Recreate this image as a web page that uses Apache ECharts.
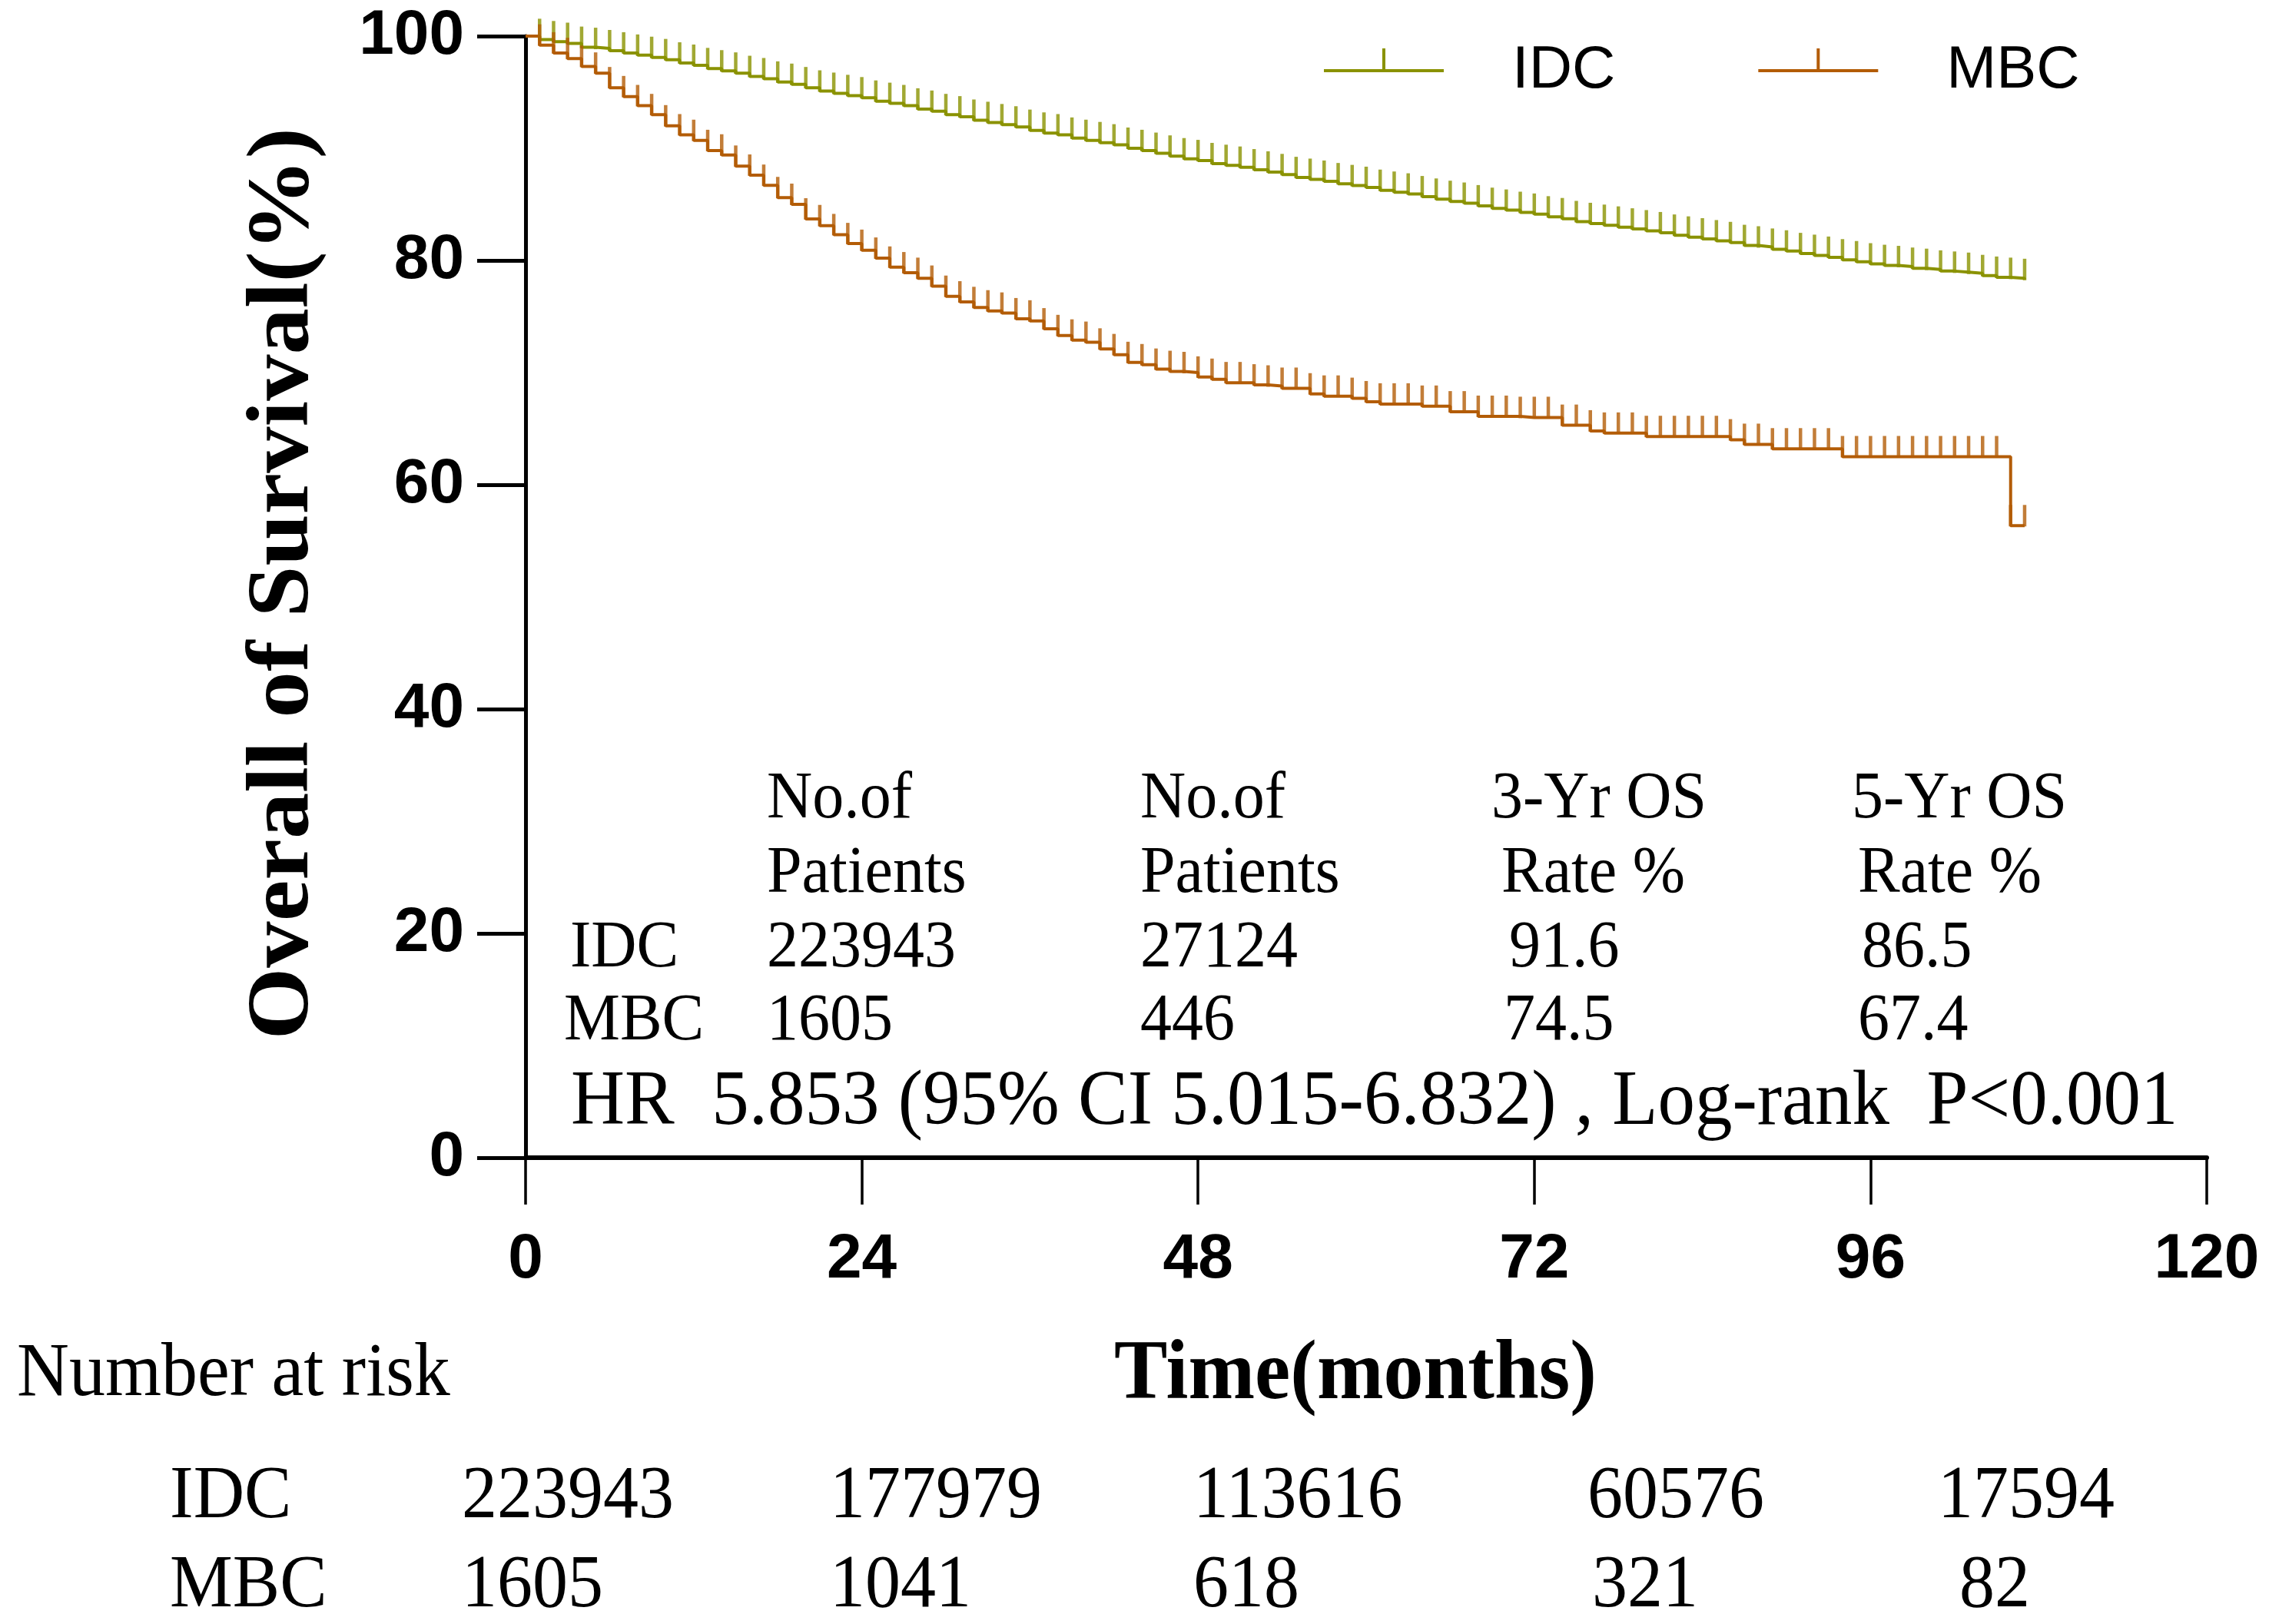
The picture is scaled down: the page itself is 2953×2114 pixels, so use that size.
<!DOCTYPE html>
<html>
<head>
<meta charset="utf-8">
<script src="https://cdn.jsdelivr.net/npm/echarts@6/dist/echarts.min.js"></script>
<style>
  html, body { margin: 0; padding: 0; background: #fff; }
  #main { width: 2953px; height: 2114px; }
</style>
</head>
<body>
<div id="main"></div>
<script>
// months of follow-up where the curves are read
const months = [
  0, 1, 2, 3, 4, 5, 6, 7, 8, 9, 10, 11, 12, 13, 14, 15, 16, 17, 18, 19,
  20, 21, 22, 23, 24, 25, 26, 27, 28, 29, 30, 31, 32, 33, 34, 35, 36, 37, 38, 39,
  40, 41, 42, 43, 44, 45, 46, 47, 48, 49, 50, 51, 52, 53, 54, 55, 56, 57, 58, 59,
  60, 61, 62, 63, 64, 65, 66, 67, 68, 69, 70, 71, 72, 73, 74, 75, 76, 77, 78, 79,
  80, 81, 82, 83, 84, 85, 86, 87, 88, 89, 90, 91, 92, 93, 94, 95, 96, 97, 98, 99,
  100, 101, 102, 103, 104, 105, 106, 107
]

// overall survival (%)
const idcSurvival = [
  100, 99.7, 99.5, 99.35, 99.0, 98.9, 98.7, 98.5, 98.3, 98.1,
  97.9, 97.6, 97.4, 97.1, 96.9, 96.7, 96.4, 96.2, 95.9, 95.7,
  95.4, 95.1, 94.9, 94.7, 94.5, 94.2, 94.0, 93.8, 93.5, 93.3,
  93.0, 92.8, 92.5, 92.3, 92.1, 91.9, 91.6, 91.35, 91.2, 90.9,
  90.7, 90.5, 90.3, 90.0, 89.8, 89.55, 89.3, 89.06, 88.9, 88.63,
  88.47, 88.31, 88.08, 87.88, 87.65, 87.39, 87.23, 87.06, 86.84, 86.67,
  86.51, 86.25, 86.08, 85.92, 85.68, 85.46, 85.26, 85.1, 84.87, 84.64,
  84.48, 84.28, 84.12, 83.88, 83.72, 83.46, 83.29, 83.13, 82.97, 82.8,
  82.64, 82.47, 82.25, 82.08, 81.92, 81.75, 81.59, 81.33, 81.2, 81.0,
  80.84, 80.61, 80.45, 80.28, 80.05, 79.88, 79.69, 79.55, 79.45, 79.3,
  79.2, 79.05, 78.95, 78.85, 78.65, 78.5, 78.4, 78.3
]
const mbcSurvival = [
  100, 99.2, 98.5, 98.0, 97.3, 96.7, 95.4, 94.6, 93.8, 93.0,
  92.0, 91.2, 90.7, 89.8, 89.4, 88.4, 87.6, 86.7, 85.6, 85.0,
  83.7, 83.1, 82.3, 81.5, 80.9, 80.2, 79.4, 78.9, 78.4, 77.7,
  76.8, 76.3, 75.8, 75.5, 75.3, 74.8, 74.6, 73.9, 73.3, 72.9,
  72.7, 72.1, 71.6, 70.9, 70.7, 70.3, 70.1, 70.0, 69.6, 69.4,
  69.1, 69.1, 68.9, 68.8, 68.6, 68.6, 68.1, 67.9, 67.9, 67.7,
  67.4, 67.2, 67.2, 67.2, 67.0, 67.0, 66.5, 66.5, 66.1, 66.1,
  66.1, 66.0, 66.0, 66.0, 65.3, 65.3, 64.8, 64.6, 64.6, 64.6,
  64.3, 64.3, 64.3, 64.3, 64.3, 64.3, 64.0, 63.6, 63.6, 63.2,
  63.2, 63.2, 63.2, 63.2, 62.5, 62.5, 62.5, 62.5, 62.5, 62.5,
  62.5, 62.5, 62.5, 62.5, 62.5, 62.5, 56.35, 56.35
]

// months carrying a censor mark
const idcCensorMonths = [
  1, 2, 3, 4, 5, 6, 7, 8, 9, 10, 11, 12, 13, 14, 15, 16, 17, 18, 19, 20,
  21, 22, 23, 24, 25, 26, 27, 28, 29, 30, 31, 32, 33, 34, 35, 36, 37, 38, 39, 40,
  41, 42, 43, 44, 45, 46, 47, 48, 49, 50, 51, 52, 53, 54, 55, 56, 57, 58, 59, 60,
  61, 62, 63, 64, 65, 66, 67, 68, 69, 70, 71, 72, 73, 74, 75, 76, 77, 78, 79, 80,
  81, 82, 83, 84, 85, 86, 87, 88, 89, 90, 91, 92, 93, 94, 95, 96, 97, 98, 99, 100,
  101, 102, 103, 104, 105, 106, 107
]
const mbcCensorMonths = [
  1, 2, 3, 4, 5, 6, 7, 8, 9, 10, 11, 12, 13, 14, 15, 16, 17, 18, 19, 20,
  21, 22, 23, 24, 25, 26, 27, 28, 29, 30, 31, 32, 33, 34, 35, 36, 37, 38, 39, 40,
  41, 42, 43, 44, 45, 46, 47, 48, 49, 50, 51, 52, 53, 54, 55, 56, 57, 58, 59, 60,
  61, 62, 63, 64, 65, 66, 67, 68, 69, 70, 71, 72, 73, 74, 75, 76, 77, 78, 79, 80,
  81, 82, 83, 84, 85, 86, 87, 88, 89, 90, 91, 92, 93, 94, 95, 96, 97, 98, 99, 100,
  101, 102, 103, 104, 105, 106, 107
]

const groups = ['IDC', 'MBC']

// summary table inside the plot
const headerLine1 = ['No.of', 'No.of', '3-Yr OS', '5-Yr OS']
const headerLine2 = ['Patients', 'Patients', 'Rate %', 'Rate %']
const summaryIDC = ['223943', '27124', '91.6', '86.5']
const summaryMBC = ['1605', '446', '74.5', '67.4']
const hrText = 'HR  5.853 (95% CI 5.015-6.832) , Log-rank  P<0.001'

// number at risk
const riskIDC = ['223943', '177979', '113616', '60576', '17594']
const riskMBC = ['1605', '1041', '618', '321', '82']

const COLORS = { IDC: '#8a9200', MBC: '#b35c06' }
const SERIF = '"Liberation Serif", "Times New Roman", serif'
const SANS = '"Liberation Sans", Arial, sans-serif'

const chart = echarts.init(document.getElementById('main'), null, { renderer: 'canvas' })

const curve = (surv) => months.map((m, i) => [m, surv[i]])
const censor = (list, surv) => list.map(m => [m, surv[months.indexOf(m)]])

// the source figure's lettering is a little taller than wide, hence the scale
function text (str, x, y, size, opts = {}) {
  return {
    type: 'text',
    x: x,
    y: y,
    rotation: opts.rotation || 0,
    scaleX: opts.rotation ? 1.05 : 1,
    scaleY: opts.rotation ? 1 : 1.05,
    silent: true,
    style: {
      text: str,
      fontFamily: opts.family || SERIF,
      fontSize: size,
      fontWeight: opts.weight || 'normal',
      fill: '#000',
      align: opts.align || 'left',
      verticalAlign: 'middle'
    }
  }
}

// layout of the text blocks (pixels)
const tableColX = [
  [998, 1484, 1941, 2410],
  [998, 1484, 1954, 2418],
  [998, 1484, 1964, 2423],
  [998, 1484, 1957, 2418]
]
const tableRowY = [1041, 1138, 1235, 1330]
const riskColX = [
  [601, 1080, 1553, 2066, 2522],
  [601, 1080, 1553, 2072, 2550]
]
const riskRowY = [1950, 2066]

const graphics = []
graphics.push(text('Overall of Survival(%)', 370, 760, 115, { weight: 'bold', align: 'center', rotation: Math.PI / 2 }))
graphics.push(text('Time(months)', 1764, 1792, 104, { weight: 'bold', align: 'center' }))
const tableRows = [headerLine1, headerLine2, summaryIDC, summaryMBC]
tableRows.forEach((row, r) => {
  row.forEach((cell, c) => {
    graphics.push(text(cell, tableColX[r][c], tableRowY[r], 82))
  })
})
graphics.push(text(groups[0], 742, tableRowY[2], 82))
graphics.push(text(groups[1], 734, tableRowY[3], 82))
graphics.push(text(hrText, 743, 1436, 97))
graphics.push(text('Number at risk', 22, 1790, 94))
;[riskIDC, riskMBC].forEach((row, r) => {
  graphics.push(text(groups[r], 221, riskRowY[r], 92))
  row.forEach((v, c) => {
    graphics.push(text(v, riskColX[r][c], riskRowY[r], 92))
  })
})

const legendIcon = 'path://M0,27L156,27L156,31L0,31Z M76,0L80,0L80,27L76,27Z M0,58'

chart.setOption({
  animation: false,
  backgroundColor: '#fff',
  grid: { left: 684, top: 47, width: 2188, height: 1460, containLabel: false },
  legend: {
    left: 1718,
    top: 48,
    itemWidth: 156,
    itemHeight: 58,
    itemGap: 186,
    icon: legendIcon,
    data: groups.map(g => ({ name: g, icon: legendIcon, itemStyle: { color: COLORS[g] } })),
    textStyle: {
      fontFamily: SANS,
      fontSize: 78,
      color: '#000',
      padding: [0, 0, 0, 84]
    },
    selectedMode: false
  },
  xAxis: {
    type: 'value',
    min: 0,
    max: 120,
    interval: 24,
    axisLine: { lineStyle: { color: '#000', width: 6 } },
    axisTick: { length: 61, lineStyle: { color: '#000', width: 3.5 } },
    axisLabel: { margin: 92, fontFamily: SANS, fontWeight: 'bold', fontSize: 82, color: '#000' },
    splitLine: { show: false }
  },
  yAxis: {
    type: 'value',
    min: 0,
    max: 100,
    interval: 20,
    axisLine: { show: true, lineStyle: { color: '#000', width: 5 } },
    axisTick: { show: true, length: 63, lineStyle: { color: '#000', width: 5 } },
    axisLabel: { margin: 80, fontFamily: SANS, fontWeight: 'bold', fontSize: 82, color: '#000' },
    splitLine: { show: false }
  },
  series: [
    {
      name: 'IDC',
      type: 'line',
      step: 'end',
      symbol: 'none',
      data: curve(idcSurvival),
      itemStyle: { color: COLORS.IDC },
      lineStyle: { color: COLORS.IDC, width: 4 },
      z: 3
    },
    {
      name: 'MBC',
      type: 'line',
      step: 'end',
      symbol: 'none',
      data: curve(mbcSurvival),
      itemStyle: { color: COLORS.MBC },
      lineStyle: { color: COLORS.MBC, width: 4 },
      z: 3
    },
    {
      name: 'IDC censored',
      type: 'scatter',
      symbol: 'rect',
      symbolSize: [4.5, 28],
      symbolOffset: [0, -13],
      data: censor(idcCensorMonths, idcSurvival),
      itemStyle: { color: COLORS.IDC },
      z: 4
    },
    {
      name: 'MBC censored',
      type: 'scatter',
      symbol: 'rect',
      symbolSize: [4.5, 28],
      symbolOffset: [0, -13],
      data: censor(mbcCensorMonths, mbcSurvival),
      itemStyle: { color: COLORS.MBC },
      z: 4
    }
  ],
  graphic: graphics
})
</script>
</body>
</html>
